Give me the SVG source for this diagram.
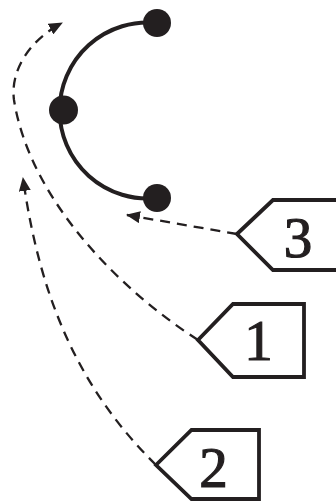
<svg xmlns="http://www.w3.org/2000/svg" width="336" height="501" viewBox="0 0 336 501">
<defs>
<style>
.tag{fill:#fff;stroke:#231f20;stroke-width:3.8;stroke-linejoin:miter}
.num{font-family:"Liberation Serif","Times New Roman",serif;font-size:57px;fill:#231f20;stroke:#231f20;stroke-width:1.2;text-anchor:middle}
.dash{fill:none;stroke:#231f20;stroke-width:2.3;stroke-dasharray:10 7}
.dot{fill:#231f20}
</style>
<marker id="arr" viewBox="0 0 14 12" refX="13" refY="6" markerWidth="14" markerHeight="12" markerUnits="userSpaceOnUse" orient="auto">
<path d="M0,0 L14,6 L0,12 Z" fill="#231f20"/>
</marker>
</defs>
<g id="molecule">
<path d="M157,23 A88,88 0 1 0 157,198" fill="none" stroke="#231f20" stroke-width="4"/>
<circle class="dot" cx="157" cy="23" r="14"/>
<circle class="dot" cx="63.5" cy="110" r="14.5"/>
<circle class="dot" cx="157" cy="198" r="14"/>
</g>
<g id="connectors">
<path class="dash" d="M237,234 L127,215" marker-end="url(#arr)"/>
<path class="dash" d="M198,340 C120,290 30,200 14,100 C10,70 30,40 62,23" marker-end="url(#arr)"/>
<path class="dash" d="M156,465 C80,390 40,300 23,178" marker-end="url(#arr)"/>
</g>
<g id="label3">
<path class="tag" d="M237,234 L273,200 L345,200 L345,270 L273,270 Z"/>
<text class="num" x="298" y="257">3</text>
</g>
<g id="label1">
<path class="tag" d="M198,340 L233,304 L304,304 L304,377 L233,377 Z"/>
<text class="num" x="258.5" y="360">1</text>
</g>
<g id="label2">
<path class="tag" d="M156,465 L191.5,430 L259,430 L259,499 L191.5,499 Z"/>
<text class="num" x="213.5" y="487">2</text>
</g>
</svg>
